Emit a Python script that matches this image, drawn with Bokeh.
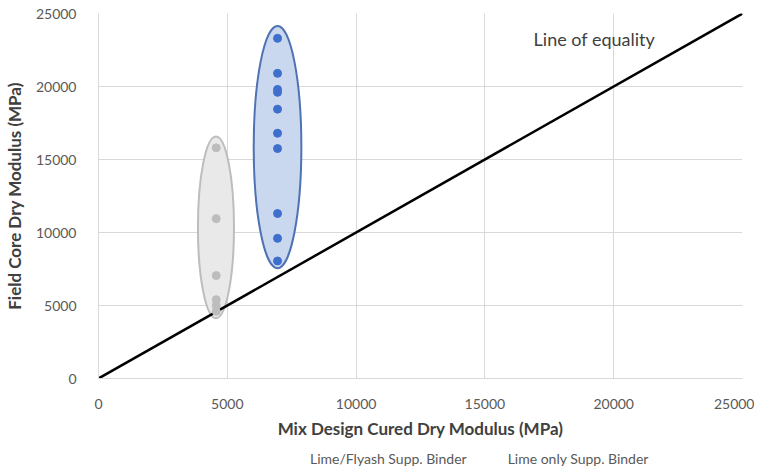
from bokeh.plotting import figure
from bokeh.layouts import column
from bokeh.models import Legend, LegendItem, FixedTicker, ColumnDataSource
from bokeh.core.properties import value
from bokeh.embed import file_html
from bokeh.resources import INLINE

# Data
flyash_x = [6950, 6950, 6950, 6950, 6950, 6950, 6950, 6950, 6950, 6950]
flyash_y = [23300, 20900, 19800, 19600, 18450, 16800, 15750, 11300, 9600, 8050]
lime_x = [4570, 4570, 4570, 4570, 4570, 4570]
lime_y = [15800, 10950, 7050, 5400, 5000, 4600]
equality_x = [0, 25000]
equality_y = [0, 25000]
ticks = [0, 5000, 10000, 15000, 20000, 25000]
series_labels = ["Lime/Flyash Supp. Binder", "Lime only Supp. Binder"]

# Group ellipses (center x, center y, width, height)
ell_flyash = dict(x=[6950], y=[15850], w=[1850], h=[16600])
ell_lime = dict(x=[4560], y=[10350], w=[1400], h=[12450])

FONT = "Lato"
BLUE = "#3f6fcc"
GREY = "#bdbdbd"

p = figure(frame_width=644, frame_height=365, output_backend="svg", toolbar_location=None,
           x_range=(0, 25000), y_range=(0, 25000),
           min_border_left=97, min_border_right=12, min_border_top=13, min_border_bottom=0)
p.outline_line_color = None
p.background_fill_color = "white"
p.border_fill_color = "white"

for ax in (p.xaxis[0], p.yaxis[0]):
    ax.ticker = FixedTicker(ticks=ticks)
    ax.major_tick_line_color = None
    ax.minor_tick_line_color = None
    ax.axis_line_color = "#d9d9d9"
    ax.major_label_text_font = FONT
    ax.major_label_text_font_size = "14px"
    ax.major_label_text_color = "#595959"
    ax.axis_label_text_font = FONT
    ax.axis_label_text_font_size = "17px"
    ax.axis_label_text_font_style = "bold"
    ax.axis_label_text_color = "#404040"

p.xaxis.axis_label = "Mix Design Cured Dry Modulus (MPa)"
p.yaxis.axis_label = "Field Core Dry Modulus (MPa)"
p.xaxis.major_label_standoff = 14
p.yaxis.major_label_standoff = 16
p.xaxis.axis_label_standoff = 6
p.yaxis.axis_label_standoff = 8

p.xgrid.ticker = FixedTicker(ticks=ticks)
p.ygrid.ticker = FixedTicker(ticks=ticks)
p.xgrid.grid_line_color = "#d9d9d9"
p.ygrid.grid_line_color = "#d9d9d9"

p.ellipse(x="x", y="y", width="w", height="h", source=ColumnDataSource(ell_lime),
          fill_color="#e9e9e9", fill_alpha=1.0, line_color="#bdbdbd", line_width=2)
p.ellipse(x="x", y="y", width="w", height="h", source=ColumnDataSource(ell_flyash),
          fill_color="#c9d7ef", fill_alpha=1.0, line_color="#4f72b3", line_width=2)

p.line(equality_x, equality_y, line_color="black", line_width=2.5)

p.scatter(flyash_x, flyash_y, size=8, fill_color=BLUE, line_color=BLUE)
p.scatter(lime_x, lime_y, size=8, fill_color=GREY, line_color=GREY)

p.text(x=[16890], y=[23250], text=["Line of equality"], text_font=value(FONT),
       text_font_size="18px", text_color="#404040", text_baseline="alphabetic")

# Separate strip holding the legend below the chart
p2 = figure(width=756, height=36, output_backend="svg", toolbar_location=None,
            x_range=(0, 1), y_range=(0, 1),
            min_border_left=0, min_border_right=0, min_border_top=0, min_border_bottom=0)
p2.xaxis.visible = False
p2.yaxis.visible = False
p2.grid.visible = False
p2.outline_line_color = None
p2.background_fill_color = "white"
p2.border_fill_color = "white"
lr1 = p2.scatter(x=[], y=[], size=8, fill_color=BLUE, line_color=BLUE)
lr2 = p2.scatter(x=[], y=[], size=8, fill_color=GREY, line_color=GREY)

legend = Legend(items=[LegendItem(label=series_labels[0], renderers=[lr1]),
                       LegendItem(label=series_labels[1], renderers=[lr2])],
                orientation="horizontal", location=(197, 10),
                label_text_font=FONT, label_text_font_size="14px",
                label_text_color="#595959", border_line_color=None,
                background_fill_alpha=0, label_standoff=5, label_height=14,
                glyph_width=10, glyph_height=10, spacing=26, padding=0, margin=0)
p2.add_layout(legend, "center")

layout = column(p, p2, spacing=0)

open("out.html", "w").write(file_html(layout, INLINE))
